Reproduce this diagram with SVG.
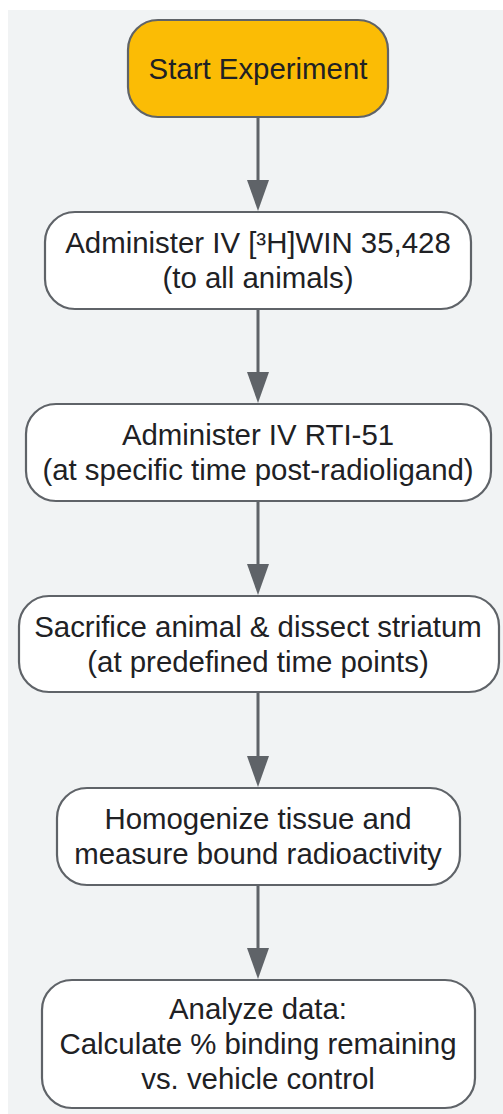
<svg xmlns="http://www.w3.org/2000/svg" width="503" height="1114" viewBox="0 0 503 1114">
<style>
.bg{fill:#f1f3f4}
.box{fill:#ffffff;stroke:#5f6368;stroke-width:2.2}
.start{fill:#fbbc05;stroke:#5f6368;stroke-width:2.2}
.t{font-family:"Liberation Sans",Arial,sans-serif;font-size:29.4px;fill:#202124;text-anchor:middle}
.edge{stroke:#5f6368;stroke-width:3;fill:none}
.head{fill:#5f6368}
</style>
<rect class="bg" x="8" y="10" width="495" height="1104"/>
<g id="connectors">
<line class="edge" x1="258" y1="117" x2="258" y2="184"/>
<polygon class="head" points="247,180 269,180 258,211"/>
<line class="edge" x1="258" y1="309" x2="258" y2="376"/>
<polygon class="head" points="247,372 269,372 258,403"/>
<line class="edge" x1="258" y1="501" x2="258" y2="568"/>
<polygon class="head" points="247,564 269,564 258,595"/>
<line class="edge" x1="258" y1="692" x2="258" y2="760"/>
<polygon class="head" points="247,756 269,756 258,787"/>
<line class="edge" x1="258" y1="885" x2="258" y2="952"/>
<polygon class="head" points="247,948 269,948 258,979"/>
</g>
<g id="start">
<rect class="start" x="128" y="20" width="260" height="97" rx="30"/>
<text class="t" x="258" y="79">Start Experiment</text>
</g>
<g id="administer-win">
<rect class="box" x="45" y="212" width="426" height="97" rx="30"/>
<text class="t" x="258" y="253">Administer IV [³H]WIN 35,428</text>
<text class="t" x="258" y="288">(to all animals)</text>
</g>
<g id="administer-rti">
<rect class="box" x="26" y="404" width="465" height="97" rx="30"/>
<text class="t" x="258" y="445">Administer IV RTI-51</text>
<text class="t" x="258" y="480">(at specific time post-radioligand)</text>
</g>
<g id="sacrifice">
<rect class="box" x="19" y="596" width="480" height="96" rx="30"/>
<text class="t" x="258" y="637">Sacrifice animal &amp; dissect striatum</text>
<text class="t" x="258" y="672">(at predefined time points)</text>
</g>
<g id="homogenize">
<rect class="box" x="57" y="788" width="403" height="97" rx="30"/>
<text class="t" x="258" y="829">Homogenize tissue and</text>
<text class="t" x="258" y="864">measure bound radioactivity</text>
</g>
<g id="analyze">
<rect class="box" x="42" y="980" width="433" height="128" rx="30"/>
<text class="t" x="258" y="1019">Analyze data:</text>
<text class="t" x="258" y="1054">Calculate % binding remaining</text>
<text class="t" x="258" y="1089">vs. vehicle control</text>
</g>
</svg>
